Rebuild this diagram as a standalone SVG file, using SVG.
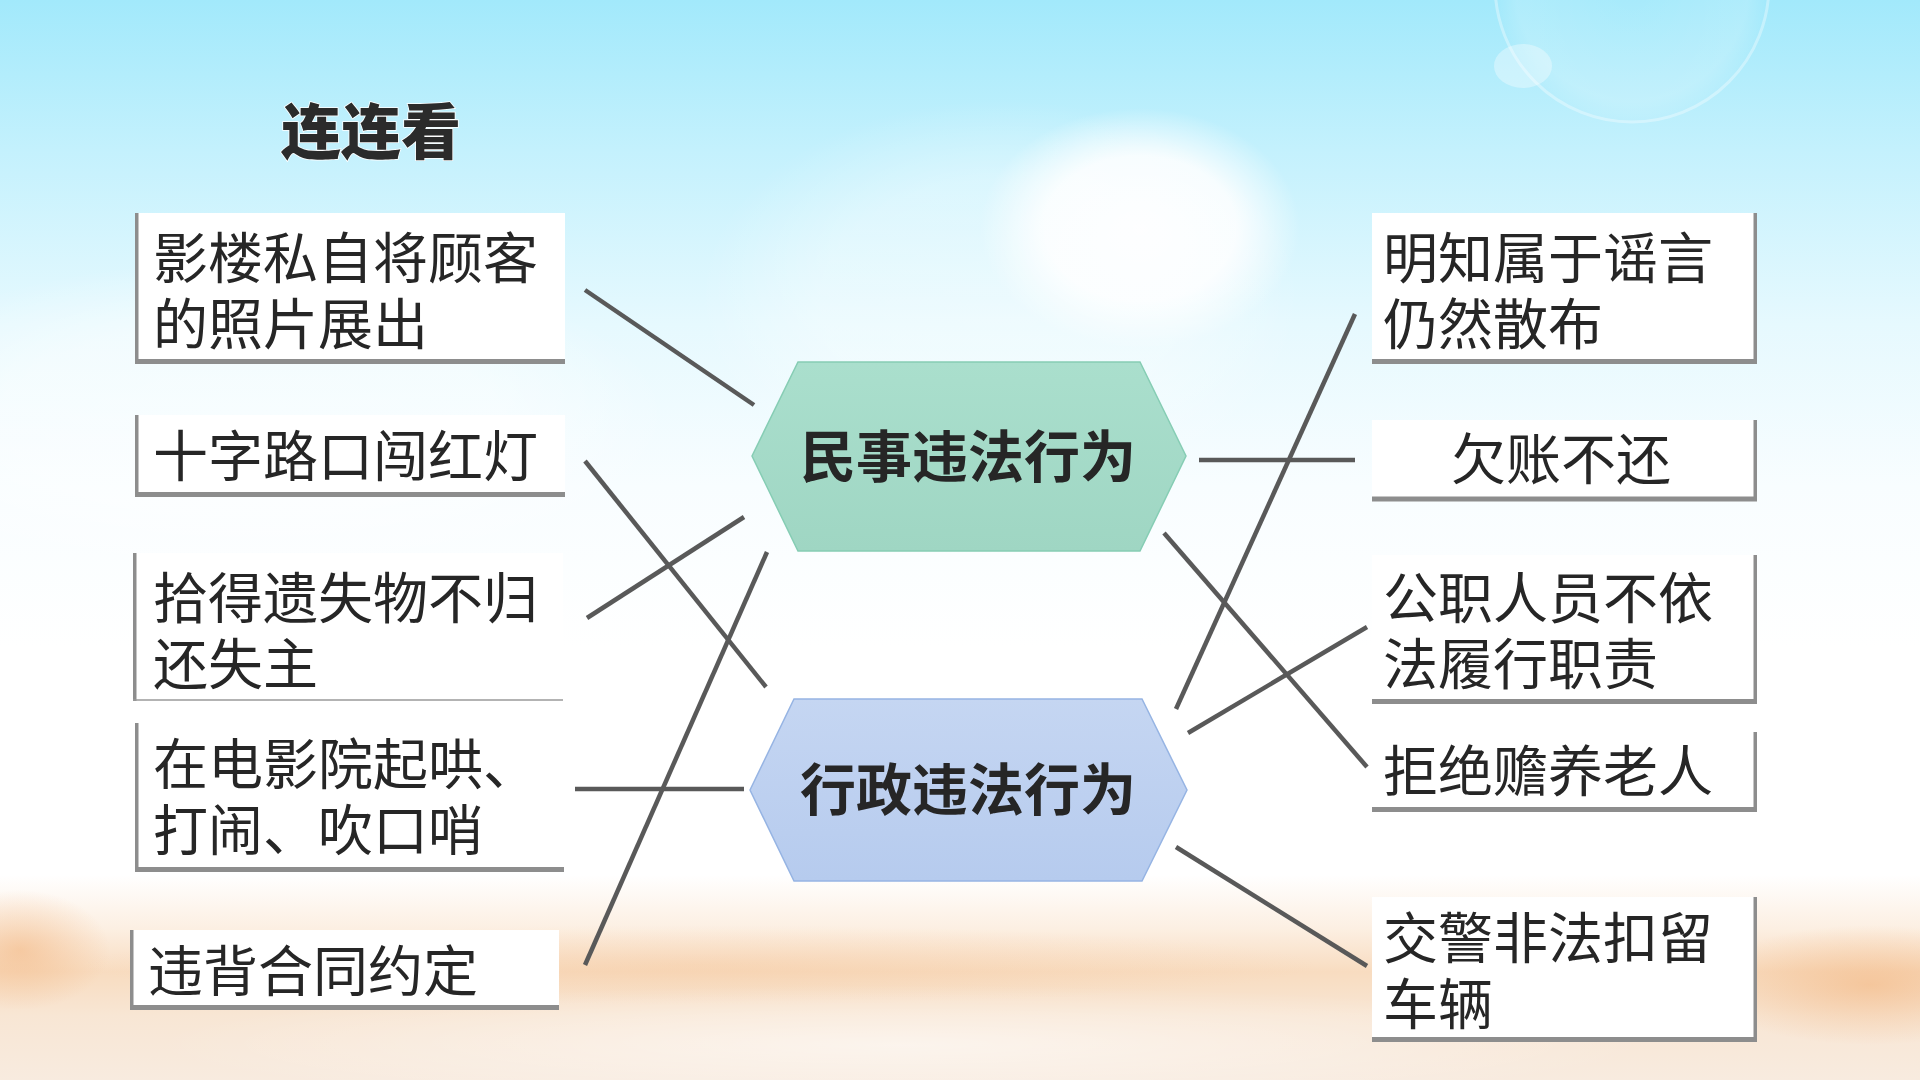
<svg xmlns="http://www.w3.org/2000/svg" width="1920" height="1080" viewBox="0 0 1920 1080">
  <defs>
    <linearGradient id="sky" x1="0" y1="0" x2="0" y2="1">
      <stop offset="0" stop-color="#a2e9fb"/>
      <stop offset="0.14" stop-color="#c4f1fd"/>
      <stop offset="0.3" stop-color="#e6f9fe"/>
      <stop offset="0.45" stop-color="#f8fdff"/>
      <stop offset="0.6" stop-color="#ffffff"/>
      <stop offset="0.81" stop-color="#ffffff"/>
      <stop offset="0.86" stop-color="#fcefe2"/>
      <stop offset="0.9" stop-color="#f8dcc0"/>
      <stop offset="0.94" stop-color="#f8e6d4"/>
      <stop offset="1" stop-color="#f8ebdf"/>
    </linearGradient>
    <radialGradient id="glow" cx="0.5" cy="0.5" r="0.5">
      <stop offset="0" stop-color="#ffffff" stop-opacity="1"/>
      <stop offset="0.6" stop-color="#ffffff" stop-opacity="0.9"/>
      <stop offset="1" stop-color="#ffffff" stop-opacity="0"/>
    </radialGradient>
    <radialGradient id="bubble" cx="0.5" cy="0.5" r="0.5">
      <stop offset="0" stop-color="#ffffff" stop-opacity="0.05"/>
      <stop offset="0.85" stop-color="#ffffff" stop-opacity="0.15"/>
      <stop offset="1" stop-color="#ffffff" stop-opacity="0"/>
    </radialGradient>
    <radialGradient id="sandOrange" cx="0.5" cy="0.5" r="0.5">
      <stop offset="0" stop-color="#f2b37c" stop-opacity="0.7"/>
      <stop offset="1" stop-color="#f2b37c" stop-opacity="0"/>
    </radialGradient>
    <radialGradient id="sandWhite" cx="0.5" cy="0.5" r="0.5">
      <stop offset="0" stop-color="#ffffff" stop-opacity="0.75"/>
      <stop offset="1" stop-color="#ffffff" stop-opacity="0"/>
    </radialGradient>
    <linearGradient id="mint" x1="0" y1="0" x2="0" y2="1">
      <stop offset="0" stop-color="#aadfcd"/>
      <stop offset="1" stop-color="#9fd6c3"/>
    </linearGradient>
    <linearGradient id="blue" x1="0" y1="0" x2="0" y2="1">
      <stop offset="0" stop-color="#c5d6f2"/>
      <stop offset="1" stop-color="#b6cbee"/>
    </linearGradient>
    <style>
      .box { fill: #ffffff; }
      .bord { stroke: #8d8d8d; fill: none; }
      .side { stroke-width: 3.5; }
      .base { stroke-width: 5; }
      .thin { stroke-width: 1.5; stroke: #9a9a9a; }
      .txt { font-family: "Liberation Sans", "Noto Sans CJK SC", "Noto Sans CJK TC", sans-serif; font-size: 55px; fill: #262626; }
      .hex-txt { font-family: "Liberation Sans", "Noto Sans CJK SC", "Noto Sans CJK TC", sans-serif; font-size: 56px; font-weight: bold; fill: #262626; text-anchor: middle; }
      .title { font-family: "Liberation Sans", "Noto Sans CJK SC", "Noto Sans CJK TC", sans-serif; font-size: 60px; font-weight: 900; fill: #2b2b2b; stroke: #ffffff; stroke-width: 1.5; paint-order: stroke; }
      .conn line { stroke: #595959; stroke-width: 4.5; stroke-linecap: butt; }
    </style>
  </defs>

  <!-- background -->
  <rect x="0" y="0" width="1920" height="1080" fill="url(#sky)"/>
  <ellipse cx="1140" cy="228" rx="160" ry="120" fill="url(#glow)" opacity="0.95"/>
  <ellipse cx="1000" cy="300" rx="300" ry="200" fill="url(#glow)" opacity="0.35"/>
  <ellipse cx="250" cy="420" rx="420" ry="160" fill="url(#glow)" opacity="0.5"/>
  <circle cx="1632" cy="-15" r="137" fill="url(#bubble)" stroke="#ffffff" stroke-opacity="0.35" stroke-width="3"/>
  <ellipse cx="1523" cy="66" rx="29" ry="22" fill="#ffffff" opacity="0.35"/>
  <ellipse cx="20" cy="950" rx="90" ry="60" fill="url(#sandOrange)" opacity="0.8"/>
  <ellipse cx="700" cy="965" rx="620" ry="40" fill="url(#sandOrange)" opacity="0.3"/>
  <ellipse cx="1870" cy="985" rx="170" ry="60" fill="url(#sandOrange)" opacity="0.8"/>
  <ellipse cx="900" cy="1045" rx="750" ry="60" fill="url(#sandWhite)" opacity="0.7"/>

  <!-- title -->
  <text class="title" x="281" y="154">连连看</text>

  <!-- connectors -->
  <g id="connectors" class="conn">
    <line x1="585" y1="290" x2="754" y2="405"/>
    <line x1="585" y1="461" x2="766" y2="687"/>
    <line x1="587" y1="618" x2="744" y2="517"/>
    <line x1="575" y1="789" x2="744" y2="789"/>
    <line x1="585" y1="965" x2="767" y2="552"/>
    <line x1="1199" y1="460" x2="1355" y2="460"/>
    <line x1="1355" y1="314" x2="1176" y2="709"/>
    <line x1="1164" y1="533" x2="1367" y2="767"/>
    <line x1="1188" y1="733" x2="1367" y2="627"/>
    <line x1="1176" y1="847" x2="1367" y2="966"/>
  </g>

  <!-- hexagons -->
  <g id="hex-civil">
    <polygon points="752,456 798,362 1140,362 1186,456 1140,551 798,551" fill="url(#mint)" stroke="#86cdb4" stroke-width="1.5"/>
    <text class="hex-txt" x="968" y="477">民事违法行为</text>
  </g>
  <g id="hex-admin">
    <polygon points="750,790 794,699 1142,699 1187,790 1142,881 794,881" fill="url(#blue)" stroke="#96b4e3" stroke-width="1.5"/>
    <text class="hex-txt" x="968" y="810">行政违法行为</text>
  </g>

  <!-- left boxes -->
  <g id="box-l1">
    <rect class="box" x="135" y="213" width="430" height="147"/>
    <line class="bord side" x1="136.75" y1="213" x2="136.75" y2="364"/>
    <line class="bord base" x1="135" y1="361.5" x2="565" y2="361.5"/>
    <text class="txt"><tspan x="153" y="278">影楼私自将顾客</tspan><tspan x="153" y="344">的照片展出</tspan></text>
  </g>
  <g id="box-l2">
    <rect class="box" x="135" y="415" width="430" height="78"/>
    <line class="bord side" x1="136.75" y1="415" x2="136.75" y2="497"/>
    <line class="bord base" x1="135" y1="494.5" x2="565" y2="494.5"/>
    <text class="txt" x="153" y="476">十字路口闯红灯</text>
  </g>
  <g id="box-l3">
    <rect class="box" x="133" y="553" width="430" height="147"/>
    <line class="bord side" x1="134.75" y1="553" x2="134.75" y2="701"/>
    <line class="bord thin" x1="133" y1="700" x2="563" y2="700"/>
    <text class="txt"><tspan x="153" y="618">拾得遗失物不归</tspan><tspan x="153" y="684">还失主</tspan></text>
  </g>
  <g id="box-l4">
    <rect class="box" x="135" y="723" width="429" height="145"/>
    <line class="bord side" x1="136.75" y1="723" x2="136.75" y2="872"/>
    <line class="bord base" x1="135" y1="869.5" x2="564" y2="869.5"/>
    <text class="txt"><tspan x="153" y="784">在电影院起哄、</tspan><tspan x="153" y="850">打闹、吹口哨</tspan></text>
  </g>
  <g id="box-l5">
    <rect class="box" x="130" y="930" width="429" height="76"/>
    <line class="bord side" x1="131.75" y1="930" x2="131.75" y2="1010"/>
    <line class="bord base" x1="130" y1="1007.5" x2="559" y2="1007.5"/>
    <text class="txt" x="148" y="991">违背合同约定</text>
  </g>

  <!-- right boxes -->
  <g id="box-r1">
    <rect class="box" x="1372" y="213" width="384" height="147"/>
    <line class="bord side" x1="1755.25" y1="213" x2="1755.25" y2="364"/>
    <line class="bord base" x1="1372" y1="361.5" x2="1757" y2="361.5"/>
    <text class="txt"><tspan x="1383" y="278">明知属于谣言</tspan><tspan x="1383" y="344">仍然散布</tspan></text>
  </g>
  <g id="box-r2">
    <rect class="box" x="1372" y="420" width="384" height="78"/>
    <line class="bord side" x1="1755.25" y1="420" x2="1755.25" y2="501"/>
    <line class="bord base" x1="1372" y1="499" x2="1757" y2="499"/>
    <text class="txt" x="1561" y="479" text-anchor="middle">欠账不还</text>
  </g>
  <g id="box-r3">
    <rect class="box" x="1372" y="555" width="384" height="145"/>
    <line class="bord side" x1="1755.25" y1="555" x2="1755.25" y2="704"/>
    <line class="bord base" x1="1372" y1="701.5" x2="1757" y2="701.5"/>
    <text class="txt"><tspan x="1383" y="618">公职人员不依</tspan><tspan x="1383" y="684">法履行职责</tspan></text>
  </g>
  <g id="box-r4">
    <rect class="box" x="1372" y="732" width="384" height="76"/>
    <line class="bord side" x1="1755.25" y1="732" x2="1755.25" y2="812"/>
    <line class="bord base" x1="1372" y1="809.5" x2="1757" y2="809.5"/>
    <text class="txt" x="1383" y="791">拒绝赡养老人</text>
  </g>
  <g id="box-r5">
    <rect class="box" x="1372" y="897" width="384" height="141"/>
    <line class="bord side" x1="1755.25" y1="897" x2="1755.25" y2="1042"/>
    <line class="bord base" x1="1372" y1="1039.5" x2="1757" y2="1039.5"/>
    <text class="txt"><tspan x="1383" y="958">交警非法扣留</tspan><tspan x="1383" y="1024">车辆</tspan></text>
  </g>
</svg>
